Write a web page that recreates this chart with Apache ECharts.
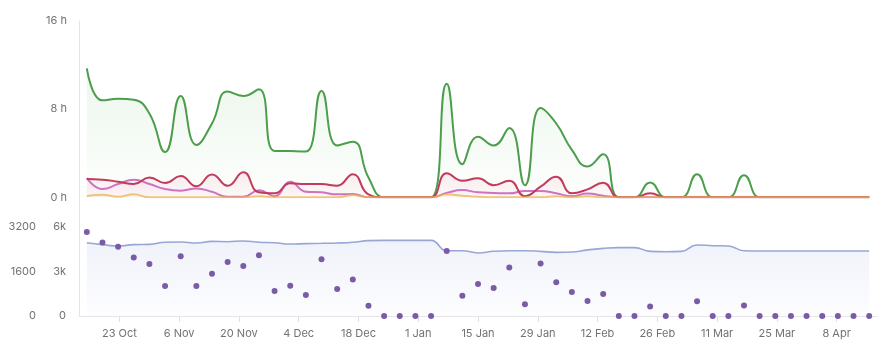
<!DOCTYPE html>
<html>
<head>
<meta charset="utf-8">
<script src="https://cdn.jsdelivr.net/npm/echarts@6/dist/echarts.min.js"></script>
<style>
  html, body { margin: 0; padding: 0; background: #ffffff; }
  #chart { width: 891px; height: 350px; }
</style>
</head>
<body>
<div id="chart"></div>
<script>
// Reporting periods (one per data point, not labelled on screen)
const periods = Array.from({ length: 51 }, (_, i) => 'P' + (i + 1));

// Date ticks shown under the lower panel
const tickDates = ['2023-10-23', '2023-11-06', '2023-11-20', '2023-12-04', '2023-12-18',
  '2024-01-01', '2024-01-15', '2024-01-29', '2024-02-12', '2024-02-26',
  '2024-03-11', '2024-03-25', '2024-04-08'];
const axisStart = '2023-10-13T13:00:00Z';
const axisEnd = '2024-04-17T11:00:00Z';

// Sleep panel (hours)
const sleepTotal = [11.7, 8.8, 8.95, 8.85, 7.6, 4.1, 9.2, 4.75, 6.7, 9.6, 9.2, 9.8, 4.2, 4.2, 4.15, 9.65, 4.7, 5.05, 1.8,
  0, 0, 0, 0, 10.3, 3.0, 5.5, 4.7, 6.3, 1.1, 8.1, 6.7, 4.3, 2.8, 3.9, 0, 0, 1.35, 0, 0, 2.1, 0, 0, 2.0,
  0, 0, 0, 0, 0, 0, 0, 0];
const sleepDeep = [1.66, 1.6, 1.42, 1.2, 1.8, 1.3, 1.93, 1.0, 2.08, 1.05, 2.27, 0.45, 0.36, 1.27, 1.2, 1.2, 1.05, 2.1, 0.27,
  0, 0, 0, 0, 2.18, 1.5, 1.72, 1.1, 1.5, 0.1, 0.96, 1.87, 0.36, 0.72, 1.33, 0, 0, 0.36, 0, 0, 0, 0, 0, 0,
  0, 0, 0, 0, 0, 0, 0, 0];
const sleepRem = [1.75, 0.75, 1.2, 1.6, 1.2, 0.75, 0.6, 0.8, 0.5, 0.05, 0.05, 0.65, 0.1, 1.4, 0.5, 0.45, 0.27, 0.3, 0,
  0, 0, 0, 0, 0.4, 0.66, 0.45, 0.4, 0.36, 0.57, 0.57, 0.36, 0.1, 0.35, 0.15, 0, 0, 0, 0, 0, 0, 0, 0, 0,
  0, 0, 0, 0, 0, 0, 0, 0];
const sleepAwake = [0.12, 0.24, 0.05, 0.27, 0, 0, 0, 0, 0, 0, 0, 0.1, 0, 0, 0, 0, 0, 0.2, 0,
  0, 0, 0, 0, 0.27, 0.15, 0.05, 0, 0, 0, 0, 0.1, 0, 0.1, 0, 0, 0, 0, 0, 0, 0, 0, 0, 0,
  0, 0, 0, 0, 0, 0, 0, 0];

// Energy panel
const totalEnergy = [4940, 4810, 4720, 4810, 4830, 4970, 4990, 4920, 5030, 5010, 5060, 4970, 4940, 4850, 4880, 4900,
  4920, 4970, 5080, 5100, 5100, 5100, 5100, 4400, 4400, 4250, 4360, 4400, 4400, 4360, 4290, 4310, 4460, 4560,
  4610, 4610, 4360, 4330, 4360, 4790, 4740, 4720, 4400, 4380, 4380, 4380, 4380, 4380, 4380, 4380, 4380];
const activeEnergy = [3020, 2640, 2490, 2100, 1870, 1080, 2150, 1080, 1520, 1940, 1800, 2180, 900, 1090, 755, 2040,
  970, 1310, 370, 0, 0, 0, 0, 2340, 730, 1150, 1010, 1740, 420, 1890, 1210, 860, 540, 790, 0, 0, 340, 0, 0,
  530, 0, 0, 380, 0, 0, 0, 0, 0, 0, 0, 0];

const MONTHS = ['Jan', 'Feb', 'Mar', 'Apr', 'May', 'Jun', 'Jul', 'Aug', 'Sep', 'Oct', 'Nov', 'Dec'];
const toTime = s => Date.parse(s + 'T00:00:00Z');
const tickTimes = tickDates.map(toTime);
const formatDay = v => { const d = new Date(v); return d.getUTCDate() + ' ' + MONTHS[d.getUTCMonth()]; };

const FONT = 'Inter';
const LABEL_COLOR = '#727272';

function fade(r, g, b, top, bottom) {
  return new echarts.graphic.LinearGradient(0, 0, 0, 1, [
    { offset: 0, color: `rgba(${r},${g},${b},${top})` },
    { offset: 1, color: `rgba(${r},${g},${b},${bottom})` }
  ]);
}

function sleepLine(name, data, color, area, opacity) {
  return {
    name, type: 'line', data, xAxisIndex: 0, yAxisIndex: 0,
    smooth: true, showSymbol: false, symbol: 'none',
    lineStyle: { color, width: 2, opacity: opacity == null ? 1 : opacity },
    itemStyle: { color },
    areaStyle: area ? { color: area } : undefined
  };
}

const chart = echarts.init(document.getElementById('chart'), null, { renderer: 'canvas' });

chart.setOption({
  animation: false,
  backgroundColor: '#ffffff',
  grid: [
    { left: 79, right: 14, top: 21, height: 176.3, outerBoundsMode: 'none' },
    { left: 79, right: 14, top: 227, height: 89, outerBoundsMode: 'none' },
    { left: 79, right: 14, top: 21, bottom: 34, outerBoundsMode: 'none' }
  ],
  xAxis: [
    { type: 'category', gridIndex: 0, data: periods, boundaryGap: true, show: false },
    { type: 'category', gridIndex: 1, data: periods, boundaryGap: true, show: false },
    {
      // calendar scale in milliseconds, labelled on fortnightly Mondays
      type: 'value', gridIndex: 1, position: 'bottom',
      min: Date.parse(axisStart), max: Date.parse(axisEnd),
      axisLine: { show: true, lineStyle: { color: '#e6e6ea', width: 1 } },
      axisTick: { show: true, customValues: tickTimes, length: 6, lineStyle: { color: '#e0e0e4' } },
      axisLabel: {
        customValues: tickTimes, formatter: formatDay,
        color: LABEL_COLOR, fontSize: 11, fontFamily: FONT, margin: 12
      },
      splitLine: { show: false }
    },
    { type: 'value', gridIndex: 2, show: false, min: 0, max: 1 }
  ],
  yAxis: [
    {
      type: 'value', gridIndex: 0, min: 0, max: 16, interval: 8,
      axisLine: { show: false }, axisTick: { show: false }, splitLine: { show: false },
      axisLabel: { formatter: '{value} h', color: LABEL_COLOR, fontSize: 11, fontFamily: FONT, margin: 12 }
    },
    {
      type: 'value', gridIndex: 1, position: 'left', min: 0, max: 6000, interval: 3000,
      axisLine: { show: false }, axisTick: { show: false }, splitLine: { show: false },
      axisLabel: {
        formatter: v => v === 0 ? '0' : (v / 1000) + 'k',
        color: LABEL_COLOR, fontSize: 11, fontFamily: FONT, margin: 13
      }
    },
    {
      type: 'value', gridIndex: 1, position: 'left', min: 0, max: 3200, interval: 1600, offset: 30,
      axisLine: { show: false }, axisTick: { show: false }, splitLine: { show: false },
      axisLabel: { formatter: v => String(v), color: LABEL_COLOR, fontSize: 11, fontFamily: FONT, margin: 13 }
    },
    {
      type: 'value', gridIndex: 2, min: 0, max: 1,
      axisLine: { show: true, lineStyle: { color: '#e4e4e8', width: 1 } },
      axisTick: { show: false }, axisLabel: { show: false }, splitLine: { show: false }
    }
  ],
  series: [
    sleepLine('Sleep', sleepTotal, '#4c9e4c', fade(90, 180, 90, 0.16, 0.02)),
    sleepLine('REM', sleepRem, '#cf72c2', fade(220, 130, 200, 0.12, 0.03)),
    sleepLine('Deep', sleepDeep, '#c23a5c', fade(225, 90, 130, 0.16, 0.04)),
    sleepLine('Awake', sleepAwake, '#e9b450', fade(240, 190, 80, 0.2, 0.05), 0.75),
    {
      name: 'Total energy', type: 'line', data: totalEnergy, xAxisIndex: 1, yAxisIndex: 1,
      smooth: true, showSymbol: false, symbol: 'none',
      lineStyle: { color: '#98a6d6', width: 1.6 },
      areaStyle: { color: fade(150, 165, 225, 0.2, 0.03) },
      z: 2
    },
    {
      name: 'Active energy', type: 'scatter', data: activeEnergy, xAxisIndex: 1, yAxisIndex: 2,
      symbolSize: 6,
      itemStyle: { color: '#7a5ca6', opacity: 1 },
      z: 3
    }
  ]
});
</script>
</body>
</html>
